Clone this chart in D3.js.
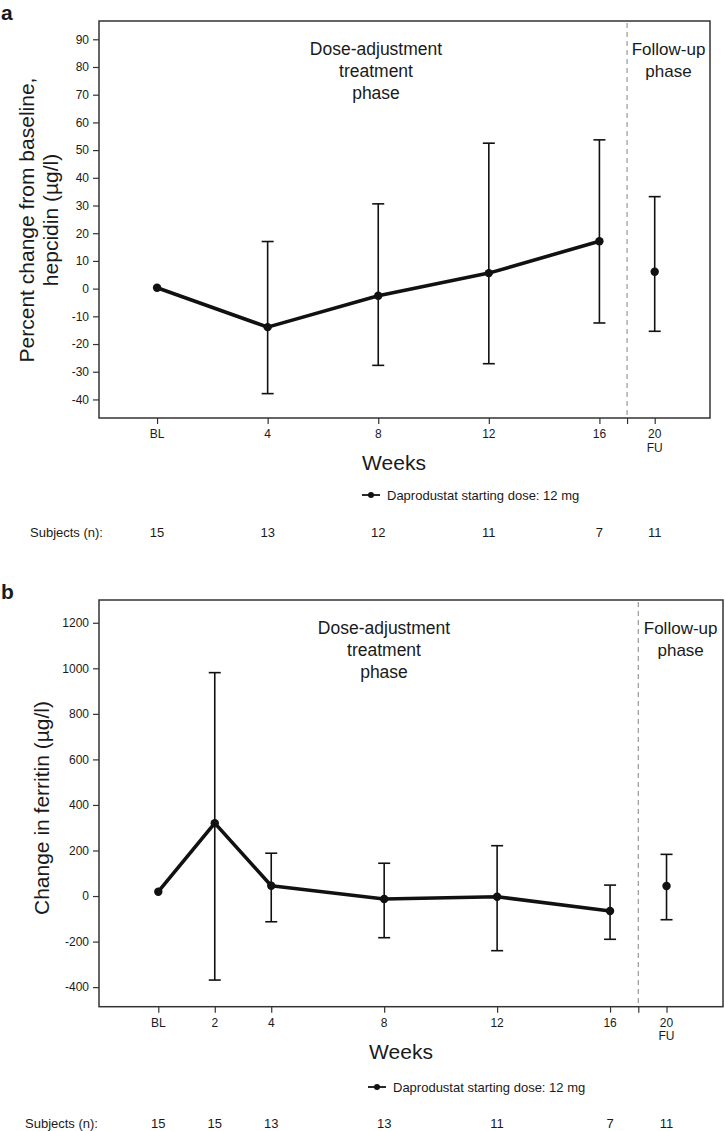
<!DOCTYPE html>
<html>
  <head>
    <title>Daprodustat hepcidin / ferritin</title>
    <script src="https://d3js.org/d3.v7.min.js" charset="utf-8"></script>
    <style>
    body {
        margin: 0;
        background: white;
        font-family: "Liberation Sans", Arial, sans-serif;
    }
    text { fill: #1a1a1a; }
    </style>
  </head>

  <body>
    <script>
// ---- data ----
// weeks are placed on a linear week axis; FU (week 20) sits at position 18
var hepWeeks = [0, 4, 8, 12, 16, 18];
var hepTickLabels = [["BL"], ["4"], ["8"], ["12"], ["16"], ["20", "FU"]];
var hepMean = [0.3, -13.9, -2.6, 5.6, 17.1, 6.1];
var hepUpper = [null, 17.0, 30.6, 52.5, 53.7, 33.2];
var hepLower = [null, -37.9, -27.7, -27.1, -12.4, -15.4];
var hepSubjects = [15, 13, 12, 11, 7, 11];
var hepYTicks = [-40, -30, -20, -10, 0, 10, 20, 30, 40, 50, 60, 70, 80, 90];

var ferWeeks = [0, 2, 4, 8, 12, 16, 18];
var ferTickLabels = [["BL"], ["2"], ["4"], ["8"], ["12"], ["16"], ["20", "FU"]];
var ferMean = [19, 320, 45, -13, -3, -66, 44];
var ferUpper = [null, 981, 188, 144, 221, 48, 183];
var ferLower = [null, -369, -113, -183, -240, -190, -104];
var ferSubjects = [15, 15, 13, 13, 11, 7, 11];
var ferYTicks = [-400, -200, 0, 200, 400, 600, 800, 1000, 1200];

var phaseSplit = 17;      // dashed line between treatment and follow-up
var legendLabel = "Daprodustat starting dose: 12 mg";

var width = 725;
var height = 1131;

var svg = d3.select("body")
  .append("svg")
  .attr("width", width)
  .attr("height", height);

function drawPanel(p) {
  var g = svg.append("g");

  var x = d3.scaleLinear().domain([-2.1, 20]).range([p.left, p.right]);
  var y = d3.scaleLinear().domain(p.yDomain).range([p.bottom, p.top]);

  // panel letter
  g.append("text")
    .attr("x", 1).attr("y", p.letterY)
    .style("font-size", "21px").style("font-weight", "bold")
    .text(p.letter);

  // y axis (plain hyphen minus, no thousands separator)
  var yAxis = d3.axisLeft(y).tickValues(p.yTicks).tickSize(6).tickPadding(4)
    .tickFormat(function(d) { return String(d); });
  var ya = g.append("g").attr("transform", "translate(" + p.left + ",0)").call(yAxis);
  ya.select(".domain").remove();
  ya.selectAll("line").attr("stroke", "#333").attr("stroke-width", 1.2);
  ya.selectAll("text").style("font-size", "12px").style("font-family", "Liberation Sans, Arial, sans-serif").attr("fill", "#222");

  // x axis: ticks at data weeks plus the phase split
  var xAxis = d3.axisBottom(x).tickValues(p.weeks.concat([phaseSplit])).tickSize(6).tickFormat("");
  var xa = g.append("g").attr("transform", "translate(0," + p.bottom + ")").call(xAxis);
  xa.select(".domain").remove();
  xa.selectAll("line").attr("stroke", "#333").attr("stroke-width", 1.2);

  // tick labels (two lines for FU)
  p.weeks.forEach(function(w, i) {
    var t = g.append("text")
      .attr("x", x(w)).attr("y", p.bottom + 20)
      .attr("text-anchor", "middle")
      .style("font-size", "12px").attr("fill", "#222");
    p.tickLabels[i].forEach(function(s, j) {
      t.append("tspan").attr("x", x(w)).attr("dy", j === 0 ? 0 : 13.5).text(s);
    });
  });

  // box
  g.append("rect")
    .attr("x", p.left).attr("y", p.top)
    .attr("width", p.right - p.left).attr("height", p.bottom - p.top)
    .attr("fill", "none").attr("stroke", "#333").attr("stroke-width", 1.5);

  // phase divider
  g.append("line")
    .attr("x1", x(phaseSplit)).attr("x2", x(phaseSplit))
    .attr("y1", p.top + 2).attr("y2", p.bottom)
    .attr("stroke", "#999").attr("stroke-width", 1.2)
    .attr("stroke-dasharray", "5,4");

  // phase labels
  var doseX = p.doseX;
  ["Dose-adjustment", "treatment", "phase"].forEach(function(s, i) {
    g.append("text").attr("x", doseX).attr("y", p.top + 34 + i * 22)
      .attr("text-anchor", "middle").style("font-size", "17.5px").text(s);
  });
  var fuX = (x(phaseSplit) + p.right) / 2;
  ["Follow-up", "phase"].forEach(function(s, i) {
    g.append("text").attr("x", fuX).attr("y", p.top + 34 + i * 22)
      .attr("text-anchor", "middle").style("font-size", "17px").text(s);
  });

  // y title
  p.yTitle.forEach(function(s, i) {
    g.append("text")
      .attr("transform", "translate(" + p.yTitleX[i] + "," + p.yTitleY + ") rotate(-90)")
      .attr("text-anchor", "middle").style("font-size", "21px").text(s);
  });

  // x title
  g.append("text").attr("x", p.weeksX).attr("y", p.bottom + 52)
    .attr("text-anchor", "middle").style("font-size", "21px").text("Weeks");

  // error bars
  var eb = p.weeks.map(function(w, i) {
    return { w: w, lo: p.lower[i], hi: p.upper[i] };
  }).filter(function(d) { return d.lo !== null; });

  g.selectAll(".eb").data(eb).enter().append("line")
    .attr("x1", function(d) { return x(d.w); }).attr("x2", function(d) { return x(d.w); })
    .attr("y1", function(d) { return y(d.lo); }).attr("y2", function(d) { return y(d.hi); })
    .attr("stroke", "#111").attr("stroke-width", 1.6);
  ["lo", "hi"].forEach(function(k) {
    g.selectAll(".cap" + k).data(eb).enter().append("line")
      .attr("x1", function(d) { return x(d.w) - 6; }).attr("x2", function(d) { return x(d.w) + 6; })
      .attr("y1", function(d) { return y(d[k]); }).attr("y2", function(d) { return y(d[k]); })
      .attr("stroke", "#111").attr("stroke-width", 1.6);
  });

  // connecting line (treatment phase only)
  var pts = p.weeks.map(function(w, i) { return [w, p.mean[i]]; });
  var line = d3.line().x(function(d) { return x(d[0]); }).y(function(d) { return y(d[1]); });
  g.append("path")
    .datum(pts.filter(function(d) { return d[0] < phaseSplit; }))
    .attr("d", line).attr("fill", "none")
    .attr("stroke", "#111").attr("stroke-width", 3.6).attr("stroke-linejoin", "round");

  g.selectAll(".pt").data(pts).enter().append("circle")
    .attr("cx", function(d) { return x(d[0]); }).attr("cy", function(d) { return y(d[1]); })
    .attr("r", 4.2).attr("fill", "#111");

  // legend
  var ly = p.legendY;
  g.append("line").attr("x1", p.legendX).attr("x2", p.legendX + 18)
    .attr("y1", ly).attr("y2", ly).attr("stroke", "#111").attr("stroke-width", 1.8);
  g.append("circle").attr("cx", p.legendX + 9).attr("cy", ly).attr("r", 3).attr("fill", "#111");
  g.append("text").attr("x", p.legendX + 25).attr("y", ly + 4.5)
    .style("font-size", "13px").text(legendLabel);

  // subjects row
  g.append("text").attr("x", p.subjLabelX).attr("y", p.subjY)
    .style("font-size", "13px").text("Subjects (n):");
  g.selectAll(".subj").data(p.subjects).enter().append("text")
    .attr("x", function(d, i) { return x(p.weeks[i]); }).attr("y", p.subjY)
    .attr("text-anchor", "middle").style("font-size", "13px")
    .text(function(d) { return d; });
}

drawPanel({
  letter: "a", letterY: 20,
  left: 99, right: 710, top: 21, bottom: 418,
  yDomain: [-46.7, 96.6], yTicks: hepYTicks,
  weeks: hepWeeks, tickLabels: hepTickLabels,
  mean: hepMean, upper: hepUpper, lower: hepLower, subjects: hepSubjects,
  yTitle: ["Percent change from baseline,", "hepcidin (µg/l)"],
  yTitleX: [33.5, 58], yTitleY: 220,
  doseX: 376, weeksX: 394,
  legendX: 362, legendY: 495,
  subjLabelX: 30, subjY: 536.5
});

drawPanel({
  letter: "b", letterY: 599,
  left: 99, right: 723, top: 600, bottom: 1006.7,
  yDomain: [-486, 1300], yTicks: ferYTicks,
  weeks: ferWeeks, tickLabels: ferTickLabels,
  mean: ferMean, upper: ferUpper, lower: ferLower, subjects: ferSubjects,
  yTitle: ["Change in ferritin (µg/l)"],
  yTitleX: [49], yTitleY: 808,
  doseX: 384, weeksX: 401,
  legendX: 368, legendY: 1087,
  subjLabelX: 25, subjY: 1127.5
});
    </script>
  </body>
</html>
